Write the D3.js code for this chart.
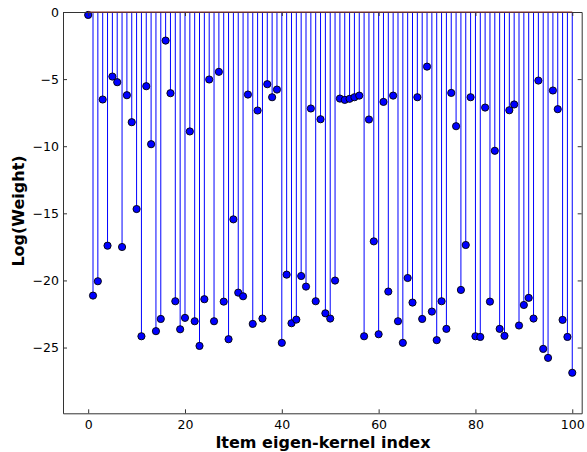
<!DOCTYPE html>
<html>
<head>
<meta charset="utf-8">
<script src="https://cdn.jsdelivr.net/npm/d3@7"></script>
<style>
  body { margin: 0; background: #fff; }
  svg { display: block; }
</style>
</head>
<body>
<div id="chart"></div>
<script>
// log weight for each item eigen-kernel, index 0..100
const logWeight = [
  -0.22, -21.13, -20.06, -6.52, -17.41, -4.81, -5.23, -17.51, -6.20, -8.21,
  -14.68, -24.16, -5.53, -9.85, -23.78, -22.87, -2.13, -6.05, -21.55, -23.64,
  -22.79, -8.90, -23.04, -24.88, -21.40, -5.03, -23.04, -4.46, -21.58, -24.38,
  -15.45, -20.91, -21.18, -6.15, -23.24, -7.34, -22.84, -5.38, -6.35, -5.78,
  -24.65, -19.57, -23.19, -22.92, -19.67, -20.46, -7.19, -21.55, -7.99, -22.45,
  -22.84, -20.01, -6.45, -6.55, -6.47, -6.35, -6.23, -24.16, -8.01, -17.09,
  -24.01, -6.70, -20.83, -6.23, -23.04, -24.65, -19.82, -21.65, -6.35, -22.87,
  -4.07, -22.32, -24.45, -21.55, -23.61, -6.03, -8.51, -20.71, -17.36, -6.35,
  -24.16, -24.21, -7.12, -21.58, -10.34, -23.61, -24.13, -7.32, -6.89, -23.36,
  -21.83, -21.30, -22.84, -5.11, -25.10, -25.77, -5.85, -7.24, -22.94, -24.21,
  -26.88
];
const itemIndex = d3.range(logWeight.length);
const xTicks = [0, 20, 40, 60, 80, 100];
const yTicks = [0, -5, -10, -15, -20, -25];

const width = 587, height = 452;
const margin = { left: 63, right: 5.3, top: 12, bottom: 38.7 };
const innerW = width - margin.left - margin.right;
const innerH = height - margin.top - margin.bottom;

const svg = d3.select('#chart').append('svg')
  .attr('width', width)
  .attr('height', height)
  .attr('font-family', '"DejaVu Sans", sans-serif');

const x = d3.scaleLinear().domain([-5.2, 101.95]).range([0, innerW]);
const y = d3.scaleLinear().domain([-29.9, 0]).range([innerH, 0]);

const g = svg.append('g')
  .attr('transform', `translate(${margin.left},${margin.top})`);

// stems
g.selectAll('.stem')
  .data(itemIndex)
  .enter().append('line')
  .attr('class', 'stem')
  .attr('x1', i => x(i)).attr('x2', i => x(i))
  .attr('y1', y(0)).attr('y2', i => y(logWeight[i]))
  .attr('stroke', '#0000ff')
  .attr('stroke-width', 1);

// markers
g.selectAll('.dot')
  .data(itemIndex)
  .enter().append('circle')
  .attr('class', 'dot')
  .attr('cx', i => x(i))
  .attr('cy', i => y(logWeight[i]))
  .attr('r', 3.6)
  .attr('fill', '#0000ff')
  .attr('stroke', '#000')
  .attr('stroke-width', 0.9);

// axes: ticks inside, on all four sides
const tickLen = 4;
g.append('g')
  .attr('class', 'axis')
  .attr('transform', `translate(0,${innerH})`)
  .call(d3.axisBottom(x).tickValues(xTicks).tickSizeInner(-tickLen).tickSizeOuter(0).tickPadding(7));

g.append('g')
  .attr('class', 'axis')
  .call(d3.axisTop(x).tickValues(xTicks).tickSizeInner(-tickLen).tickSizeOuter(0).tickFormat(''));

g.append('g')
  .attr('class', 'axis')
  .call(d3.axisLeft(y).tickValues(yTicks).tickSizeInner(-tickLen).tickSizeOuter(0).tickPadding(4)
    .tickFormat(d => d3.format('d')(d).replace('-', '\u2212')));

g.append('g')
  .attr('class', 'axis')
  .attr('transform', `translate(${innerW},0)`)
  .call(d3.axisRight(y).tickValues(yTicks).tickSizeInner(-tickLen).tickSizeOuter(0).tickFormat(''));

svg.selectAll('.axis .domain').attr('stroke', '#333').attr('stroke-width', 1);
svg.selectAll('.axis line').attr('stroke', '#333');
svg.selectAll('.axis text').attr('font-size', 12.5).attr('fill', '#000')
  .attr('font-family', '"DejaVu Sans", sans-serif');

// baseline at zero, from first to last item
g.append('line')
  .attr('x1', x(0)).attr('x2', x(itemIndex[itemIndex.length - 1]))
  .attr('y1', y(0)).attr('y2', y(0))
  .attr('stroke', '#8a2f2f')
  .attr('stroke-width', 1.2);

svg.append('text')
  .attr('x', margin.left + x(48.5))
  .attr('y', 448)
  .attr('text-anchor', 'middle')
  .attr('font-size', 16)
  .attr('font-weight', 'bold')
  .text('Item eigen-kernel index');

svg.append('text')
  .attr('transform', 'translate(24,211) rotate(-90)')
  .attr('text-anchor', 'middle')
  .attr('font-size', 16)
  .attr('font-weight', 'bold')
  .text('Log(Weight)');
</script>
</body>
</html>
